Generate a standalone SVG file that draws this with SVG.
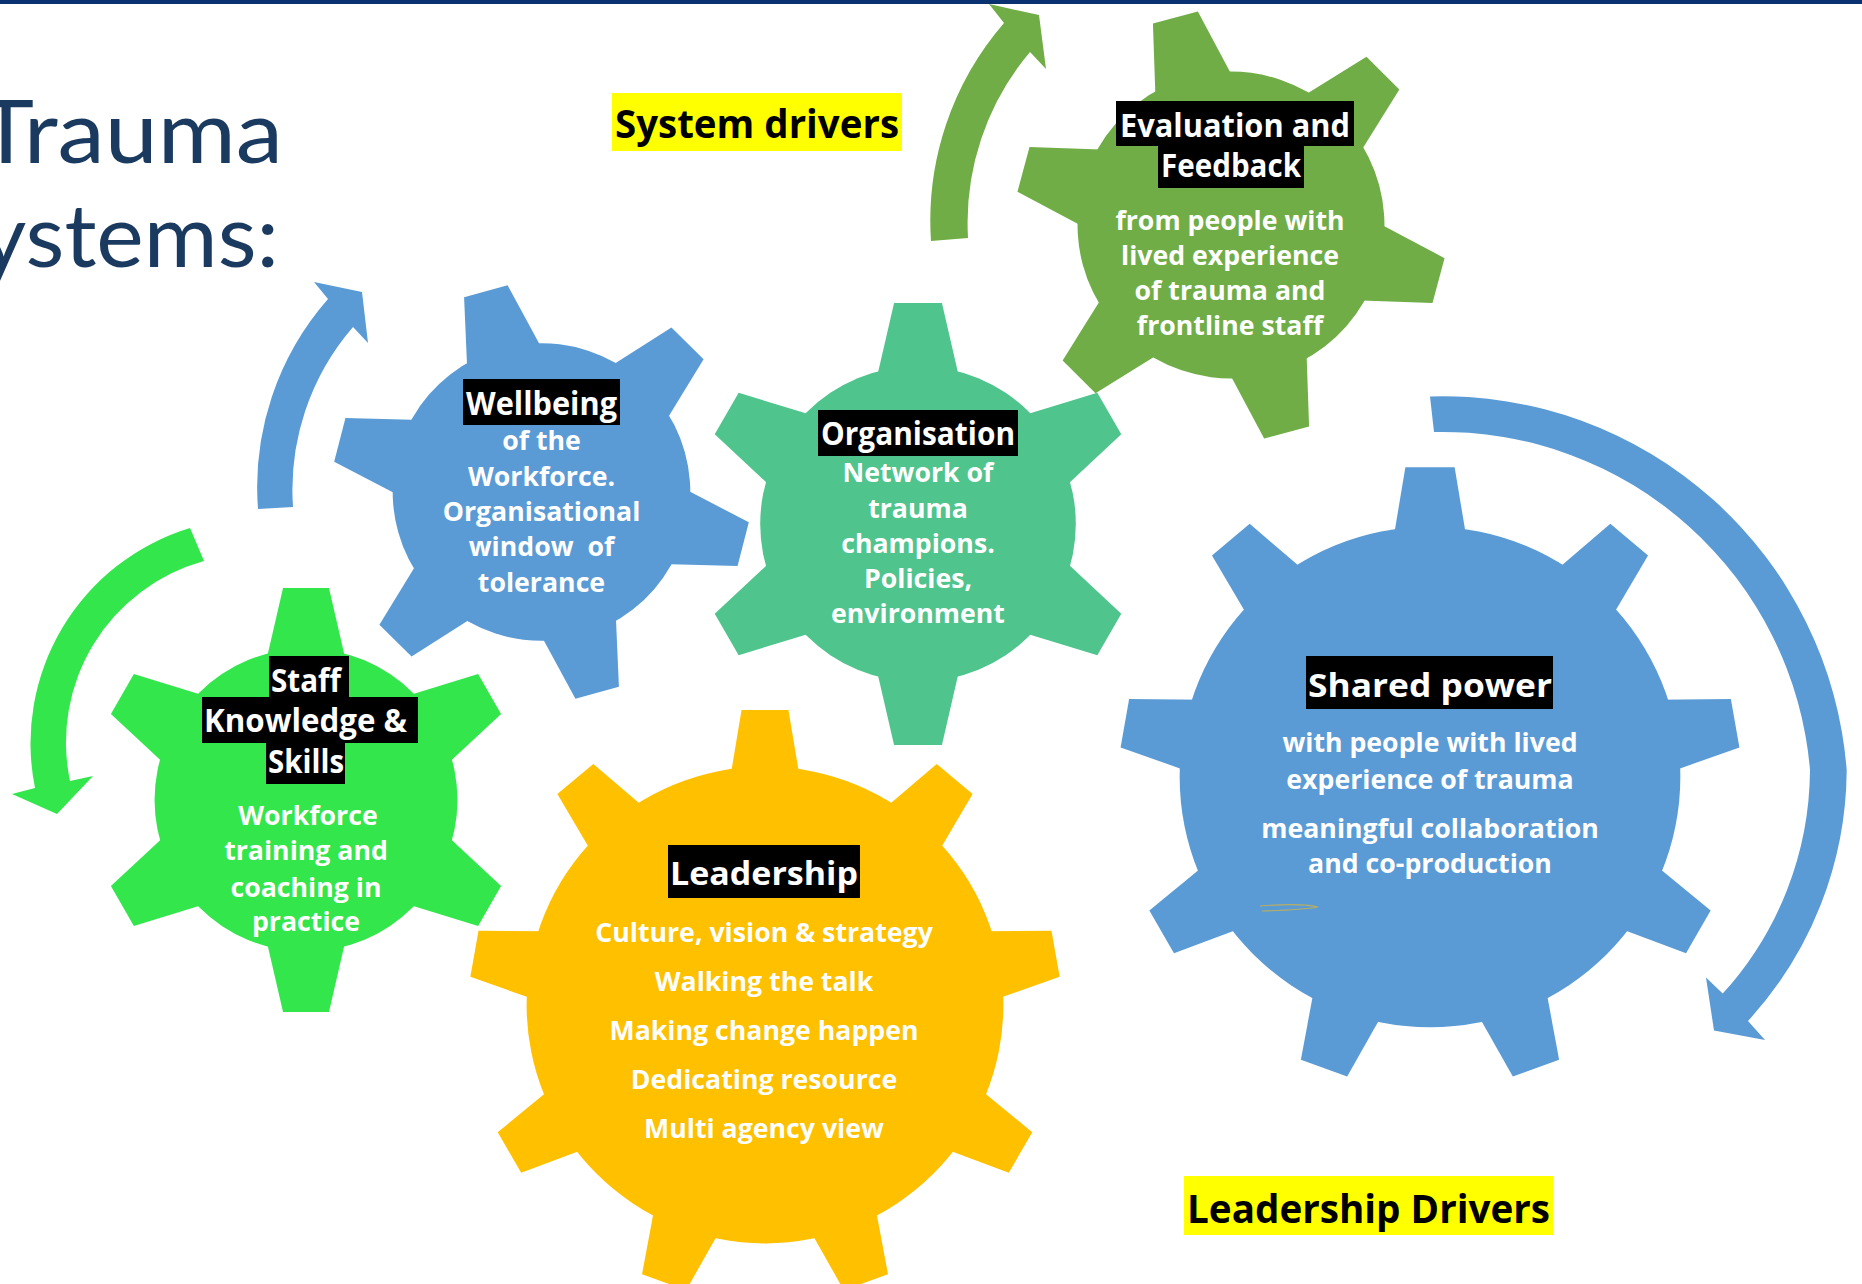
<svg xmlns="http://www.w3.org/2000/svg" xmlns:xlink="http://www.w3.org/1999/xlink" width="1862" height="1284" viewBox="0 0 1862 1284">
  <style>
    .title { font-family: Lato, "Open Sans", "Liberation Sans", sans-serif; font-weight: 400; font-size: 88px; fill: #1B3A5F; }
    .tag { font-family: "Open Sans", "Liberation Sans", sans-serif; font-weight: 700; font-size: 40px; fill: #000; text-anchor: middle; }
    .tagbox { fill: #FFFF00; }
    .head { font-family: "Open Sans", "Liberation Sans", sans-serif; font-weight: 700; font-size: 32px; fill: #FFFFFF; text-anchor: middle; }
    .hbox { fill: #000000; }
    .body { font-family: "Open Sans", "Liberation Sans", sans-serif; font-weight: 700; font-size: 26.7px; fill: #FFFFFF; text-anchor: middle; }
  </style>
  <defs>
    <!-- six-tooth gear, tooth pointing up, radius 155 body / 217 tip -->
    <g id="gear6">
      <circle cx="0" cy="0" r="155"/>
      <polygon id="tooth6" points="-41.3,-140 -23.5,-217 23.5,-217 41.3,-140"/>
      <use xlink:href="#tooth6" transform="rotate(60)"/>
      <use xlink:href="#tooth6" transform="rotate(120)"/>
      <use xlink:href="#tooth6" transform="rotate(180)"/>
      <use xlink:href="#tooth6" transform="rotate(240)"/>
      <use xlink:href="#tooth6" transform="rotate(300)"/>
    </g>
    <!-- nine-tooth gear, radius 244 body / 302 tip -->
    <g id="gear9">
      <circle cx="0" cy="0" r="244"/>
      <polygon id="tooth9" points="-36,-230 -24,-302 24,-302 36,-230"/>
      <use xlink:href="#tooth9" transform="rotate(40)"/>
      <use xlink:href="#tooth9" transform="rotate(80)"/>
      <use xlink:href="#tooth9" transform="rotate(120)"/>
      <use xlink:href="#tooth9" transform="rotate(160)"/>
      <use xlink:href="#tooth9" transform="rotate(200)"/>
      <use xlink:href="#tooth9" transform="rotate(240)"/>
      <use xlink:href="#tooth9" transform="rotate(280)"/>
      <use xlink:href="#tooth9" transform="rotate(320)"/>
    </g>
  </defs>

  <rect width="1862" height="1284" fill="#FFFFFF"/>
  <rect x="0" y="0" width="1862" height="4" fill="#0A3170"/>

  <!-- heading -->
  <g id="title">
    <text class="title" x="-22" y="163" textLength="305" lengthAdjust="spacingAndGlyphs">Trauma</text>
    <text class="title" x="-20" y="267" textLength="299" lengthAdjust="spacingAndGlyphs">ystems:</text>
  </g>

  <g id="label-system-drivers">
    <rect class="tagbox" x="612" y="93" width="290" height="58"/>
    <text class="tag" x="757" y="138" textLength="284" lengthAdjust="spacingAndGlyphs">System drivers</text>
  </g>
  <g id="label-leadership-drivers">
    <rect class="tagbox" x="1184" y="1176" width="369" height="59"/>
    <text class="tag" x="1368.5" y="1223" textLength="363" lengthAdjust="spacingAndGlyphs">Leadership Drivers</text>
  </g>

  <!-- rotation arrows -->
  <g id="connectors">
    <path id="arrow-evaluation" fill="#70AD47" d="M931,241 A302,302 0 0 1 1004,23 L989,4 L1039,15 L1046,69 L1030,52 A265,265 0 0 0 968,238 Z"/>
    <path id="arrow-wellbeing" fill="#5B9BD5" d="M258,509 A285,285 0 0 1 328,299 L314,282 L362,292 L368,343 L353,327 A249,249 0 0 0 293,507 Z"/>
    <path id="arrow-staff" fill="#32E64B" d="M190,528 A225,225 0 0 0 35,788 L12,794 L57,814 L93,776 L70,781 A188,188 0 0 1 204,561 Z"/>
    <path id="arrow-shared" fill="#5B9BD5" d="M1430,396.5 A405,405 0 0 1 1846.7,770.3 A374,374 0 0 1 1748,1021 L1765,1040 L1714,1030.5 L1706,977.6 L1722.7,993.6 A335,335 0 0 0 1810,770 A369,369 0 0 0 1434,432 Z"/>
  </g>

  <!-- Evaluation and Feedback -->
  <g id="gear-evaluation">
    <use xlink:href="#gear6" fill="#70AD47" transform="translate(1231,225) rotate(-15) scale(0.99)"/>
    <rect class="hbox" x="1116" y="101" width="238" height="45"/>
    <rect class="hbox" x="1158" y="146" width="146" height="42"/>
    <text class="head" x="1235" y="137" textLength="230" lengthAdjust="spacingAndGlyphs">Evaluation and</text>
    <text class="head" x="1231" y="177" textLength="140" lengthAdjust="spacingAndGlyphs">Feedback</text>
    <text class="body" x="1230" y="230">from people with</text>
    <text class="body" x="1230" y="265">lived experience</text>
    <text class="body" x="1230" y="300">of trauma and</text>
    <text class="body" x="1230" y="335">frontline staff</text>
  </g>

  <!-- Wellbeing -->
  <g id="gear-wellbeing">
    <use xlink:href="#gear6" fill="#5B9BD5" transform="translate(541.5,492) rotate(-15.5) scale(0.96)"/>
    <rect class="hbox" x="463" y="379" width="157" height="46"/>
    <text class="head" x="541.5" y="415" textLength="151" lengthAdjust="spacingAndGlyphs">Wellbeing</text>
    <text class="body" x="541.5" y="450">of the</text>
    <text class="body" x="541.5" y="485.5">Workforce.</text>
    <text class="body" x="541.5" y="521">Organisational</text>
    <text class="body" x="541.5" y="556" xml:space="preserve">window  of</text>
    <text class="body" x="541.5" y="591.5">tolerance</text>
  </g>

  <!-- Organisation -->
  <g id="gear-organisation">
    <use xlink:href="#gear6" fill="#50C48D" transform="translate(918,524) scale(1.018)"/>
    <rect class="hbox" x="818" y="410" width="200" height="46"/>
    <text class="head" x="918" y="445" textLength="194" lengthAdjust="spacingAndGlyphs">Organisation</text>
    <text class="body" x="918" y="482">Network of</text>
    <text class="body" x="918" y="518">trauma</text>
    <text class="body" x="918" y="553">champions.</text>
    <text class="body" x="918" y="588">Policies,</text>
    <text class="body" x="918" y="623">environment</text>
  </g>

  <!-- Staff Knowledge & Skills -->
  <g id="gear-staff">
    <use xlink:href="#gear6" fill="#32E64B" transform="translate(306,800) scale(0.977)"/>
    <rect class="hbox" x="269" y="656" width="80" height="41"/>
    <rect class="hbox" x="202" y="697" width="216" height="46"/>
    <rect class="hbox" x="266" y="743" width="79" height="41"/>
    <text class="head" x="306" y="692" font-size="34" textLength="70" lengthAdjust="spacingAndGlyphs">Staff</text>
    <text class="head" x="305.5" y="732" font-size="34" textLength="203" lengthAdjust="spacingAndGlyphs">Knowledge &amp;</text>
    <text class="head" x="306" y="773" font-size="34" textLength="76" lengthAdjust="spacingAndGlyphs">Skills</text>
    <text class="body" x="308" y="825">Workforce</text>
    <text class="body" x="306" y="860">training and</text>
    <text class="body" x="306" y="897">coaching in</text>
    <text class="body" x="306" y="931">practice</text>
  </g>

  <!-- Leadership -->
  <g id="gear-leadership">
    <use xlink:href="#gear9" fill="#FFC000" transform="translate(765,1005) scale(0.977)"/>
    <rect class="hbox" x="668" y="845" width="192" height="53"/>
    <text class="head" x="764" y="885" font-size="35" textLength="188" lengthAdjust="spacingAndGlyphs">Leadership</text>
    <text class="body" x="764" y="942">Culture, vision &amp; strategy</text>
    <text class="body" x="764" y="990.5">Walking the talk</text>
    <text class="body" x="764" y="1039.5">Making change happen</text>
    <text class="body" x="764" y="1088.5">Dedicating resource</text>
    <text class="body" x="764" y="1137.5">Multi agency view</text>
  </g>

  <!-- Shared power -->
  <g id="gear-shared-power">
    <use xlink:href="#gear9" fill="#5B9BD5" transform="translate(1430,777) scale(1.026)"/>
    <rect class="hbox" x="1306" y="656" width="247" height="53"/>
    <text class="head" x="1430" y="697" font-size="37" textLength="244" lengthAdjust="spacingAndGlyphs">Shared power</text>
    <text class="body" x="1430" y="752">with people with lived</text>
    <text class="body" x="1430" y="788.5">experience of trauma</text>
    <text class="body" x="1430" y="837.5">meaningful collaboration</text>
    <text class="body" x="1430" y="872.5">and co-production</text>
    <path d="M1260,906 Q1300,903 1318,907 Q1300,910 1262,911" fill="none" stroke="#B8AE63" stroke-width="1.2"/>
  </g>
</svg>
